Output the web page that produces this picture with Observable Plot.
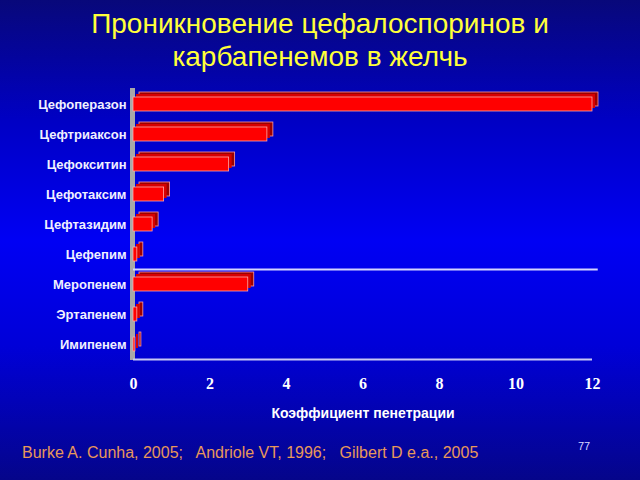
<!DOCTYPE html>
<html>
<head>
<meta charset="utf-8">
<script src="https://cdn.jsdelivr.net/npm/d3@7"></script>
<script src="https://cdn.jsdelivr.net/npm/@observablehq/plot@0.6"></script>
<style>
  html, body { margin: 0; padding: 0; }
  #wrap {
    position: relative; width: 640px; height: 480px; overflow: hidden;
    background: linear-gradient(to bottom, #08087a 0%, #0000c4 25%, #0000f4 50%, #0000d8 72%, #05058a 100%);
    font-family: "Liberation Sans", Arial, sans-serif;
  }
  #title {
    position: absolute; left: 0; top: 7px; width: 640px; text-align: center;
    color: #ffff3a; font-size: 28px; line-height: 33px;
  }
  #foot {
    position: absolute; left: 22px; top: 444px; color: #e8985a; font-size: 16px; white-space: pre;
  }
  #page {
    position: absolute; left: 578px; top: 440px; color: #d8d8ff; font-size: 11px;
  }
  #chart { position: absolute; left: 0; top: 0; }
</style>
</head>
<body>
<div id="wrap">
  <div id="chart"></div>
  <div id="title">Проникновение цефалоспоринов и<br>карбапенемов в желчь</div>
  <div id="foot">Burke A. Cunha, 2005;   Andriole VT, 1996;   Gilbert D e.a., 2005</div>
  <div id="page">77</div>
</div>
<script>
const categories = ["Цефоперазон", "Цефтриаксон", "Цефокситин", "Цефотаксим", "Цефтазидим", "Цефепим", "Меропенем", "Эртапенем", "Имипенем"];
const values = [12, 3.5, 2.5, 0.8, 0.5, 0.1, 3.0, 0.1, 0.05];
const xTicks = [0, 2, 4, 6, 8, 10, 12];
const axisLabel = "Коэффициент пенетрации";
const groupSplit = "Меропенем";

const data = categories.map((name, i) => ({name, value: values[i]}));

const chart = Plot.plot({
  width: 640,
  height: 480,
  marginLeft: 133,
  marginRight: 48,
  marginTop: 88,
  marginBottom: 120,
  style: {background: "transparent", overflow: "visible"},
  x: {domain: [0, 12]},
  y: {type: "band", domain: categories, padding: 0},
  marks: [
    Plot.ruleX([0], {stroke: "#a8a8a8", strokeWidth: 5, dx: -1}),
    Plot.axisY({tickSize: 0, tickPadding: 7, fontSize: 13, fontWeight: "bold", fill: "#f0f0ff", fontFamily: "Liberation Sans, Arial, sans-serif", label: null}),
    Plot.axisX({ticks: xTicks, tickSize: 0, tickPadding: 17, fontSize: 16, fontWeight: "bold", fill: "white", fontFamily: "Liberation Serif, Times New Roman, serif", label: null}),
    Plot.ruleY([categories[categories.length - 1]], {dy: 15, x1: 0, x2: 12, stroke: "#c8c8f4", strokeWidth: 2}),
    Plot.ruleY([groupSplit], {dy: -15, x1: 0, x2: 12.15, stroke: "#d4d4ff", strokeWidth: 2}),
    Plot.barX(data, {x: "value", y: "name", fill: "#9c0000", stroke: "#ff9a9a", strokeWidth: 0.8, insetTop: 8, insetBottom: 8, dx: 6, dy: -5}),
    Plot.barX(data, {x: "value", y: "name", fill: "#d80000", stroke: "none", insetTop: 8, insetBottom: 8, dx: 3, dy: -3}),
    Plot.barX(data, {x: "value", y: "name", fill: "#ff0000", stroke: "#ffa8a8", strokeWidth: 0.8, insetTop: 8, insetBottom: 8}),
    Plot.text([axisLabel], {frameAnchor: "bottom", dy: 57, fontSize: 14, fontWeight: "bold", fill: "white", fontFamily: "Liberation Sans, Arial, sans-serif"})
  ]
});
document.getElementById("chart").appendChild(chart);
</script>
</body>
</html>
